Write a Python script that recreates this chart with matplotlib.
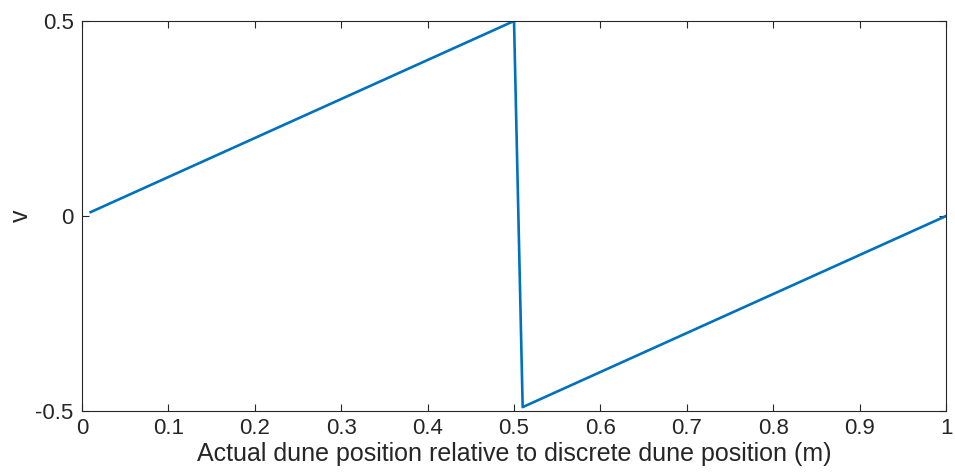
import matplotlib
matplotlib.use("Agg")
import matplotlib.pyplot as plt

# relative dune position (m) and v
x = [0.01, 0.5, 0.51, 1.0]
v = [0.01, 0.5, -0.49, 0.0]
xticks = [0, 0.1, 0.2, 0.3, 0.4, 0.5, 0.6, 0.7, 0.8, 0.9, 1]
xticklabels = ['0', '0.1', '0.2', '0.3', '0.4', '0.5', '0.6', '0.7', '0.8', '0.9', '1']
yticks = [-0.5, 0, 0.5]
yticklabels = ['-0.5', '0', '0.5']

plt.rcParams['font.family'] = ['Liberation Sans', 'DejaVu Sans']

fig = plt.figure(figsize=(9.55, 4.72), dpi=100)
ax = fig.add_axes([0.0859, 0.1292, 0.9047, 0.8263])
ax.plot(x, v, color='#0072BD', linewidth=1.9)

ax.set_xlim(0, 1)
ax.set_ylim(-0.5, 0.5)
ax.set_xticks(xticks)
ax.set_xticklabels(xticklabels)
ax.set_yticks(yticks)
ax.set_yticklabels(yticklabels)
ax.tick_params(direction='in', top=True, right=True, length=5, width=0.8,
               color='#262626', labelsize=16, labelcolor='#262626')
ax.tick_params(axis='x', pad=5)
ax.tick_params(axis='y', pad=6)
for s in ax.spines.values():
    s.set_color('#262626')
    s.set_linewidth(0.8)

ax.set_xlabel('Actual dune position relative to discrete dune position (m)',
              fontsize=18, color='#262626', labelpad=2)
ax.set_ylabel('v', fontsize=18, color='#262626', labelpad=2)

fig.savefig('out.png', dpi=100)
